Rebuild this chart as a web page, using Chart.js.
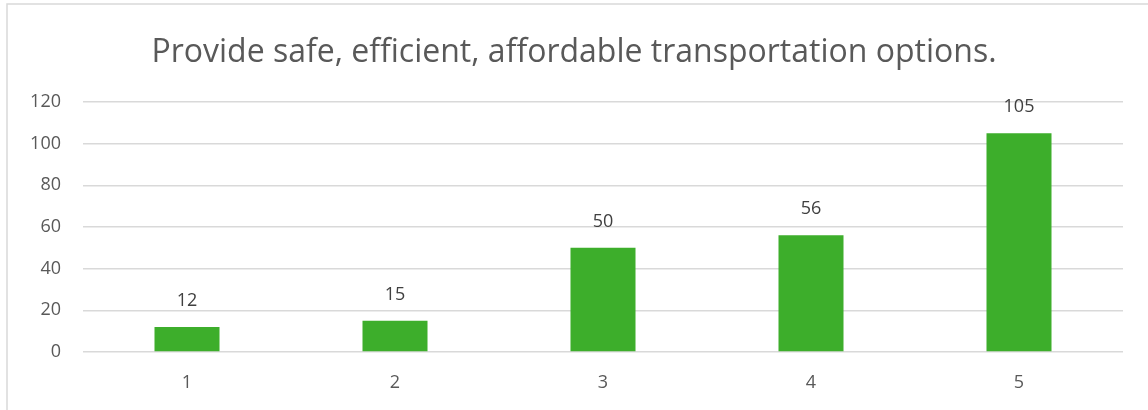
<!DOCTYPE html>
<html>
<head>
<meta charset="utf-8">
<script src="https://cdn.jsdelivr.net/npm/chart.js@4"></script>
<style>
  html, body { margin: 0; padding: 0; background: #fff; }
  #wrap { width: 1148px; height: 410px; }
</style>
</head>
<body>
<div id="wrap"><canvas id="transportChart" width="1148" height="410"></canvas></div>
<script>
const categories = ['1', '2', '3', '4', '5'];
const responses = [12, 15, 50, 56, 105];
const yTicks = [0, 20, 40, 60, 80, 100, 120];
const chartTitle = 'Provide safe, efficient, affordable transportation options.';

const textColor = '#595959';
const fontFamily = "'Open Sans', 'Liberation Sans', sans-serif";

// light frame around the chart, cut off at right/bottom like the source
const framePlugin = {
    id: 'frame',
    beforeDraw(chart) {
        const c = chart.ctx;
        c.save();
        c.strokeStyle = '#d9d9d9';
        c.lineWidth = 1.5;
        c.strokeRect(7, 4, 1300, 600);
        c.restore();
    }
};

// value labels above each bar
const valueLabels = {
    id: 'valueLabels',
    afterDatasetsDraw(chart) {
        const c = chart.ctx;
        const meta = chart.getDatasetMeta(0);
        c.save();
        c.font = '18px ' + fontFamily;
        c.fillStyle = '#404040';
        c.textAlign = 'center';
        c.textBaseline = 'middle';
        meta.data.forEach((bar, i) => {
            c.fillText(String(responses[i]), bar.x, bar.y - 26);
        });
        c.restore();
    }
};

const ctx = document.getElementById('transportChart').getContext('2d');

const transportChart = new Chart(ctx, {
    type: 'bar',
    data: {
        labels: categories,
        datasets: [{
            label: 'Responses',
            data: responses,
            backgroundColor: '#3dae2b',
            barPercentage: 0.3125,
            categoryPercentage: 1.0,
        }]
    },
    options: {
        responsive: false,
        animation: false,
        layout: {
            padding: 0
        },
        plugins: {
            legend: { display: false },
            tooltip: { enabled: false },
            title: {
                display: true,
                text: chartTitle,
                color: textColor,
                font: { family: fontFamily, size: 32, weight: 'normal', lineHeight: 1.2 },
                padding: { top: 34, bottom: 29.6 },
            },
        },
        scales: {
            x: {
                grid: { display: false, drawTicks: false },
                border: { display: false },
                ticks: {
                    color: textColor,
                    font: { family: fontFamily, size: 18 },
                    padding: 20,
                },
                afterFit(scale) { scale.height = 58; },
            },
            y: {
                min: 0,
                max: 120,
                afterBuildTicks(scale) {
                    scale.ticks = yTicks.map(v => ({ value: v }));
                },
                grid: { color: '#d9d9d9', lineWidth: 1.5, drawTicks: false },
                border: { display: false },
                ticks: {
                    color: textColor,
                    font: { family: fontFamily, size: 18 },
                    padding: 22,
                },
                afterFit(scale) { scale.width = 83; },
            },
            // empty right-hand axis, only reserves the right margin
            yRight: {
                position: 'right',
                min: 0,
                max: 120,
                grid: { display: false, drawTicks: false },
                border: { display: false },
                ticks: { display: false },
                afterFit(scale) { scale.width = 25; },
            }
        }
    },
    plugins: [framePlugin, valueLabels]
});
</script>
</body>
</html>
